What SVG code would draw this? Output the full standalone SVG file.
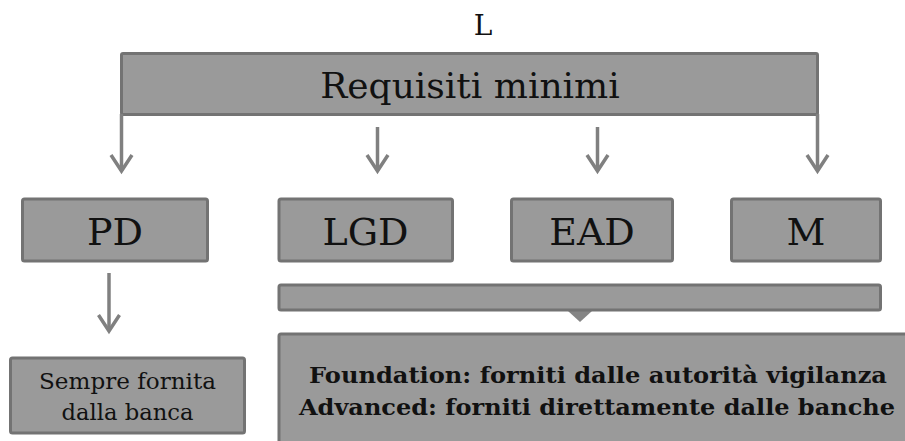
<svg xmlns="http://www.w3.org/2000/svg" width="905" height="441" viewBox="0 0 905 441">
<style>
.box{fill:#9a9a9a;stroke:#737373;stroke-width:3}
.lbl{font-family:"DejaVu Serif",serif;fill:#111;text-anchor:middle}
.conn{stroke:#808080;stroke-width:3.5;fill:none}
.head{stroke:#808080;stroke-width:3.5;fill:none;stroke-linejoin:miter}
</style>
<rect width="905" height="441" fill="#ffffff"/>
<text x="483" y="35" class="lbl" font-size="28">L</text>
<g id="requisiti">
<rect class="box" x="121.5" y="53.5" width="696" height="61" rx="1.5"/>
<text x="470" y="98" class="lbl" font-size="36">Requisiti minimi</text>
</g>
<g id="pd">
<rect class="box" x="22.5" y="199" width="185" height="62" rx="2"/>
<text x="115" y="245" class="lbl" font-size="38">PD</text>
</g>
<g id="lgd">
<rect class="box" x="279" y="199" width="173.5" height="62" rx="2"/>
<text x="365.5" y="245" class="lbl" font-size="38">LGD</text>
</g>
<g id="ead">
<rect class="box" x="511.5" y="199" width="161" height="62" rx="2"/>
<text x="592" y="245" class="lbl" font-size="38">EAD</text>
</g>
<g id="m">
<rect class="box" x="731.5" y="199" width="149" height="62" rx="2"/>
<text x="806" y="245" class="lbl" font-size="38">M</text>
</g>
<g id="sempre">
<rect class="box" x="10.5" y="358" width="234" height="75" rx="2"/>
<text x="127.5" y="389" class="lbl" font-size="22.5" textLength="177" lengthAdjust="spacingAndGlyphs">Sempre fornita</text>
<text x="127.5" y="420" class="lbl" font-size="22.5" textLength="132" lengthAdjust="spacingAndGlyphs">dalla banca</text>
</g>
<g id="bar">
<path d="M568 311 L580 322 L592 311 Z" fill="#858585"/>
<rect class="box" x="279" y="285" width="601.5" height="25" rx="2"/>
</g>
<g id="approcci">
<rect class="box" x="279" y="334" width="640" height="120" rx="2"/>
<text x="598" y="383" class="lbl" font-size="23" font-weight="bold" textLength="578" lengthAdjust="spacingAndGlyphs">Foundation: forniti dalle autorità vigilanza</text>
<text x="597" y="415" class="lbl" font-size="23" font-weight="bold" textLength="596" lengthAdjust="spacingAndGlyphs">Advanced: forniti direttamente dalle banche</text>
</g>
<g id="connectors">
<line class="conn" x1="121.5" y1="114" x2="121.5" y2="171"/>
<line class="conn" x1="377.5" y1="127" x2="377.5" y2="171"/>
<line class="conn" x1="597.5" y1="127" x2="597.5" y2="171"/>
<line class="conn" x1="817.5" y1="114" x2="817.5" y2="171"/>
<line class="conn" x1="109" y1="273" x2="109" y2="331"/>
<path class="head" d="M111 155 L121.5 171 L132 155"/>
<path class="head" d="M367 155 L377.5 171 L388 155"/>
<path class="head" d="M587 155 L597.5 171 L608 155"/>
<path class="head" d="M807 155 L817.5 171 L828 155"/>
<path class="head" d="M98.5 315 L109 331 L119.5 315"/>
</g>
</svg>
